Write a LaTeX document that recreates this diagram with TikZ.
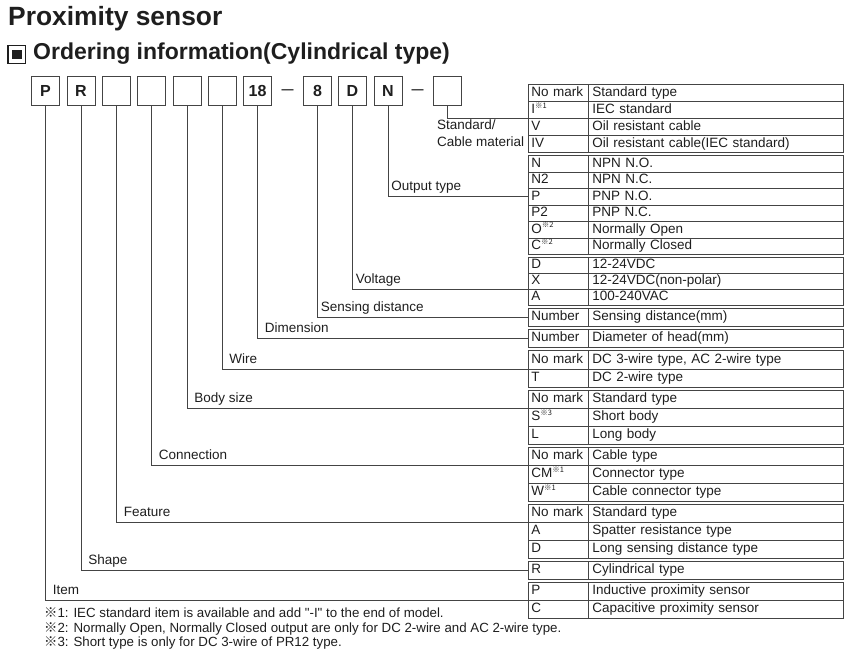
\documentclass[tikz,border=0pt]{standalone}
\usepackage{fontspec}
\setmainfont{Liberation Sans}
\newfontfamily\rawsans{Liberation Sans}[Ligatures=TeXOff]
\newfontfamily\cjk{Noto Sans CJK JP}
\usepackage{xcolor}
\usepackage{tikz}
\usetikzlibrary{positioning}
\definecolor{inkgray}{HTML}{1E1E1E}
\definecolor{rulegray}{HTML}{444444}
\newcommand{\sref}[1]{\textsuperscript{\fontsize{7.5}{7.5}\selectfont\cjk ※#1}}

\begin{document}
\begin{tikzpicture}[x=1pt, y=-1pt,
    codebox/.style={draw=rulegray, line width=0.9pt, minimum width=28pt, minimum height=29pt, inner sep=0pt, text=inkgray, font=\fontsize{16}{16}\selectfont\bfseries},
    keycell/.style={draw=rulegray, line width=0.8pt, anchor=north west, text width=54pt, inner xsep=3pt, inner ysep=0pt, align=left, text height=9.5pt, text depth=2.5pt, text=inkgray, font=\fontsize{13.5}{16}\selectfont},
    desccell/.style={keycell, text width=247pt, inner xsep=4pt},
    lead/.style={draw=rulegray, line width=0.8pt},
    lbl/.style={anchor=base west, inner sep=0pt, xshift=7pt, yshift=6pt, text=inkgray, font=\fontsize{13.5}{16}\selectfont},
    note/.style={anchor=base west, inner sep=0pt, text=inkgray, font=\fontsize{13.3}{15}\selectfont}]
    \useasboundingbox (0,0) rectangle (850,653);

    % Headings
    \node[anchor=base west, inner sep=0pt, text=inkgray, font=\fontsize{26.4}{26}\selectfont\bfseries] (title) at (8,25) {Proximity sensor};
    \node[draw=inkgray, line width=1.2pt, minimum size=17.5pt, inner sep=0pt] (icon) at (16.8,54.5) {};
    \node[fill=inkgray, minimum size=9.5pt, inner sep=0pt] (iconfill) at (icon.center) {};
    \node[anchor=base west, inner sep=0pt, text=inkgray, font=\fontsize{23}{23}\selectfont\bfseries] (head) at (33,59.5) {Ordering information(Cylindrical type)};

    % Model code boxes
    \foreach \n/\x/\t in {b1/45.5/P, b2/81/R, b3/116.5/{}, b4/151.5/{}, b5/187/{}, b6/222/{}, b7/257.5/18, b8/317.5/8, b9/352.5/D, b10/388/N, b11/447.5/{}}
        \node[codebox] (\n) at (\x,90.5) {\t};
    \node[inner sep=0pt, text=inkgray, font=\fontsize{12}{12}\selectfont\bfseries] (dash1) at (287.5,91.5) {—};
    \node[inner sep=0pt, text=inkgray, font=\fontsize{12}{12}\selectfont\bfseries] (dash2) at (417.5,91.5) {—};

    % Table: standard / cable material
    \foreach \n/\y/\k/\d in {std1/84/No mark/Standard type, std2/101/I\sref{1}/IEC standard, std3/118/V/Oil resistant cable, std4/135/IV/Oil resistant cable(IEC standard)} {
        \node[keycell, minimum height=17pt] (\n-k) at (528,\y) {\k};
        \node[desccell, minimum height=17pt] (\n-d) at (588,\y) {\d};
    }
    % output type
    \foreach \n/\y/\k/\d in {out1/155/N/NPN N.O., out2/171.5/N2/NPN N.C., out3/188/P/PNP N.O., out4/204.5/P2/PNP N.C., out5/221/O\sref{2}/Normally Open, out6/237.5/C\sref{2}/Normally Closed} {
        \node[keycell, minimum height=16.5pt] (\n-k) at (528,\y) {\k};
        \node[desccell, minimum height=16.5pt] (\n-d) at (588,\y) {\d};
    }
    % voltage
    \foreach \n/\y/\k/\d in {volt1/257/D/12-24VDC, volt2/273/X/12-24VDC(non-polar), volt3/289/A/100-240VAC} {
        \node[keycell, minimum height=16pt] (\n-k) at (528,\y) {\k};
        \node[desccell, minimum height=16pt] (\n-d) at (588,\y) {\d};
    }
    % sensing distance, dimension
    \node[keycell, minimum height=18pt] (dist1-k) at (528,308) {Number};
    \node[desccell, minimum height=18pt] (dist1-d) at (588,308) {Sensing distance(mm)};
    \node[keycell, minimum height=18pt] (dia1-k) at (528,329) {Number};
    \node[desccell, minimum height=18pt] (dia1-d) at (588,329) {Diameter of head(mm)};
    % wire
    \foreach \n/\y/\k/\d in {wire1/350/No mark/{DC 3-wire type, AC 2-wire type}, wire2/368.5/T/DC 2-wire type} {
        \node[keycell, minimum height=18.5pt] (\n-k) at (528,\y) {\k};
        \node[desccell, minimum height=18.5pt] (\n-d) at (588,\y) {\d};
    }
    % body size, connection, feature
    \foreach \n/\y/\k/\d in {body1/390/No mark/Standard type, body2/408/S\sref{3}/Short body, body3/426/L/Long body,
                             conn1/447/No mark/Cable type, conn2/465/CM\sref{1}/Connector type, conn3/483/W\sref{1}/Cable connector type,
                             feat1/504/No mark/Standard type, feat2/522/A/Spatter resistance type, feat3/540/D/Long sensing distance type,
                             shape1/561/R/Cylindrical type,
                             item1/582/P/Inductive proximity sensor, item2/600/C/Capacitive proximity sensor} {
        \node[keycell, minimum height=18pt] (\n-k) at (528,\y) {\k};
        \node[desccell, minimum height=18pt] (\n-d) at (588,\y) {\d};
    }

    % Leader lines
    \draw[lead] (b11.south) |- (std2-k.south west);
    \node[anchor=north west, align=left, inner sep=0pt, text=inkgray, font=\fontsize{13.5}{17}\selectfont] (lstd) at (437,120) {Standard/\\Cable material};
    \draw[lead] (b10.south) |- node[lbl, pos=0.5, xshift=-4pt] (lout) {Output type} (out3-k.west);
    \draw[lead] (b9.south) |- node[lbl, pos=0.5, xshift=-4pt] (lvolt) {Voltage} (volt2-k.south west);
    \draw[lead] (b8.south) |- node[lbl, pos=0.5, xshift=-4pt] (ldist) {Sensing distance} (dist1-k.west);
    \draw[lead] (b7.south) |- node[lbl, pos=0.5] (ldim) {Dimension} (dia1-k.west);
    \draw[lead] (b6.south) |- node[lbl, pos=0.5] (lwire) {Wire} (wire1-k.south west);
    \draw[lead] (b5.south) |- node[lbl, pos=0.5] (lbody) {Body size} (body1-k.south west);
    \draw[lead] (b4.south) |- node[lbl, pos=0.5] (lconn) {Connection} (conn1-k.south west);
    \draw[lead] (b3.south) |- node[lbl, pos=0.5] (lfeat) {Feature} (feat1-k.south west);
    \draw[lead] (b2.south) |- node[lbl, pos=0.5] (lshape) {Shape} (shape1-k.west);
    \draw[lead] (b1.south) |- node[lbl, pos=0.5] (litem) {Item} (item1-k.south west);

    % Notes
    \node[note] (fn1) at (44,617) {{\cjk ※}1: IEC standard item is available and add {\rawsans "-I"} to the end of model.};
    \node[note] (fn2) at (44,632) {{\cjk ※}2: Normally Open, Normally Closed output are only for DC 2-wire and AC 2-wire type.};
    \node[note] (fn3) at (44,646) {{\cjk ※}3: Short type is only for DC 3-wire of PR12 type.};
\end{tikzpicture}
\end{document}
